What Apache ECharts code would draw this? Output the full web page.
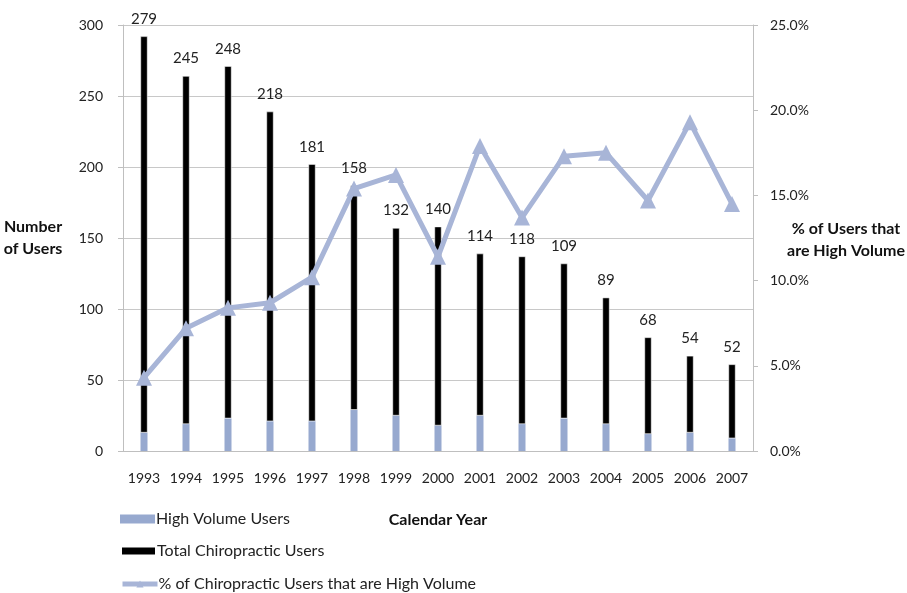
<!DOCTYPE html>
<html>
<head>
<meta charset="utf-8">
<script src="https://cdn.jsdelivr.net/npm/echarts@6/dist/echarts.min.js"></script>
<style>
  html, body { margin: 0; padding: 0; background: #fff; }
  #chart { width: 907px; height: 593px; }
</style>
</head>
<body>
<div id="chart"></div>
<script>
// data
const years = ["1993", "1994", "1995", "1996", "1997", "1998", "1999", "2000",
  "2001", "2002", "2003", "2004", "2005", "2006", "2007"];
// light bottom segment
const highVolume = [13, 19, 23, 21, 21, 29, 25, 18, 25, 19, 23, 19, 12, 13, 9];
// black segment, also the printed label
const totalUsers = [279, 245, 248, 218, 181, 158, 132, 140, 114, 118, 109, 89, 68, 54, 52];
// percent line (right axis)
const pctHigh = [4.3, 7.2, 8.4, 8.7, 10.2, 15.4, 16.2, 11.4, 17.9, 13.7, 17.3, 17.5, 14.7, 19.3, 14.5];

const leftTicks = { min: 0, max: 300, interval: 50 };
const rightTicks = { min: 0, max: 25, interval: 5 };

const FONT = "Lato";
const lineColor = "#A8B5D7";
const lightBar = "#97A9CF";

const chart = echarts.init(document.getElementById("chart"));

// one legend per row so they stack like the original
const legendRow = (name, top, extra) => ({
  orient: "vertical",
  left: 120,
  top,
  padding: 0,
  itemWidth: 35,
  itemHeight: 9,
  textStyle: { fontFamily: FONT, fontSize: 16, color: "#222", padding: [0, 0, 0, -4] },
  data: [Object.assign({ name }, extra)],
});

const option = {
  backgroundColor: "#fff",
  animation: false,
  textStyle: { fontFamily: FONT },
  grid: { left: 123, right: 154, top: 25, bottom: 142 },

  legend: [
    legendRow("High Volume Users", 511, { icon: "rect" }),
    legendRow("Total Chiropractic Users", 543, { icon: "rect" }),
    legendRow("% of Chiropractic Users that are High Volume", 576, { lineStyle: { width: 5 } }),
  ],

  xAxis: {
    type: "category",
    data: years,
    name: "Calendar Year",
    nameLocation: "middle",
    nameGap: 61,
    nameTextStyle: { fontFamily: FONT, fontSize: 16, fontWeight: "bold", color: "#111" },
    axisLine: { lineStyle: { color: "#BFBFBF" } },
    axisTick: { show: false },
    axisLabel: { color: "#222", fontSize: 14, margin: 20, fontFamily: FONT, interval: 0 },
  },

  yAxis: [
    {
      type: "value",
      min: leftTicks.min,
      max: leftTicks.max,
      interval: leftTicks.interval,
      axisLine: { show: true, lineStyle: { color: "#BFBFBF" } },
      axisTick: { show: true, length: 5, lineStyle: { color: "#BFBFBF" } },
      axisLabel: { color: "#222", fontSize: 14, margin: 20, fontFamily: FONT },
      splitLine: { show: true, lineStyle: { color: "#C8C8C8" } },
    },
    {
      type: "value",
      min: rightTicks.min,
      max: rightTicks.max,
      interval: rightTicks.interval,
      position: "right",
      axisLine: { show: true, lineStyle: { color: "#BFBFBF" } },
      axisTick: { show: true, length: 5, lineStyle: { color: "#BFBFBF" } },
      axisLabel: {
        color: "#222",
        fontSize: 14,
        margin: 17,
        fontFamily: FONT,
        formatter: (v) => v.toFixed(1) + "%",
      },
      splitLine: { show: false },
    },
  ],

  graphic: [
    {
      type: "text",
      style: {
        text: "Number\nof Users",
        fontFamily: FONT,
        fontSize: 16,
        fontWeight: "bold",
        fill: "#111",
        lineHeight: 22,
        align: "center",
      },
      position: [33, 216],
    },
    {
      type: "text",
      style: {
        text: "% of Users that\nare High Volume",
        fontFamily: FONT,
        fontSize: 16,
        fontWeight: "bold",
        fill: "#111",
        lineHeight: 22,
        align: "center",
      },
      position: [846, 218],
    },
  ],

  series: [
    {
      name: "High Volume Users",
      type: "bar",
      stack: "users",
      barWidth: 7,
      data: highVolume,
      itemStyle: { color: lightBar },
    },
    {
      name: "Total Chiropractic Users",
      type: "bar",
      stack: "users",
      barWidth: 7,
      data: totalUsers,
      itemStyle: { color: "#000", borderColor: "#fff", borderWidth: 0.5 },
      label: {
        show: true,
        position: "top",
        distance: 10,
        color: "#222",
        fontSize: 15,
        fontFamily: FONT,
      },
    },
    {
      name: "% of Chiropractic Users that are High Volume",
      type: "line",
      yAxisIndex: 1,
      data: pctHigh,
      symbol: "triangle",
      symbolSize: 16,
      lineStyle: { color: lineColor, width: 5 },
      itemStyle: { color: lineColor },
      z: 5,
    },
  ],
};

chart.setOption(option);
</script>
</body>
</html>
